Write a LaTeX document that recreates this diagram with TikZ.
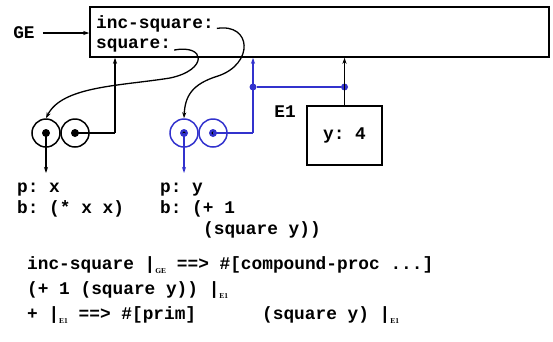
\documentclass[tikz,border=0pt]{standalone}
\usepackage{fontspec}
\newfontfamily\cour{Liberation Mono}
\newfontfamily\subf{Liberation Serif}
\usetikzlibrary{arrows.meta}
\definecolor{eblue}{RGB}{50,50,205}
\begin{document}
\begin{tikzpicture}[x=1pt,y=-1pt,
  txt/.style={font=\cour\bfseries\fontsize{17.8}{21}\selectfont, inner sep=0pt, anchor=base west},
  ctxt/.style={font=\cour\bfseries\fontsize{17.8}{21}\selectfont, inner sep=0pt},
  ln/.style={line width=1.3pt},
  arr/.style={ln, -{Stealth[length=6pt,width=4pt]}},
  cell/.style={circle, draw, line width=1.5pt, minimum size=28pt, inner sep=0pt},
  bdot/.style={circle, fill=black, minimum size=8pt, inner sep=0pt},
  bldot/.style={circle, fill=eblue, minimum size=8pt, inner sep=0pt, path picture={\fill[black] (path picture bounding box.center) circle (1.6pt);}},
  jdot/.style={circle, fill=eblue, minimum size=7pt, inner sep=0pt}
]
\useasboundingbox (0,0) rectangle (553,341);
\newcommand{\sbs}[1]{\raisebox{-4pt}{\subf\bfseries\fontsize{7.5}{7.5}\selectfont #1}}

% global frame
\node[draw, line width=1.5pt, minimum width=459pt, minimum height=50pt, inner sep=0pt] (ge) at (319.5,32) {};
\node[ctxt] (gel) at (24,33) {GE};
\draw[arr] (gel.east) ++(8pt,0) coordinate (gs) (gs) -- (ge.west |- gs);
\node[txt] (t1) at (96,28) {inc-square:};
\node[txt] (t2) at (96,48) {square:};

% black procedure
\node[cell] (c1) at (46,133) {};
\node[cell] (c2) at (75,133) {};
\node[bdot] (d1) at (c1.center) {};
\node[bdot] (d2) at (c2.center) {};
\coordinate (k1) at (115,133);
\draw[ln] (d2.center) -- (k1);
\draw[arr] (k1) -- (k1 |- ge.south);
\coordinate (pa) at (46,173);
\draw[arr] (d1.center) -- (pa);

% blue procedure
\node[cell, draw=eblue] (c3) at (184,133) {};
\node[cell, draw=eblue] (c4) at (213,133) {};
\node[bldot] (d3) at (c3.center) {};
\node[bldot] (d4) at (c4.center) {};
\coordinate (k2) at (253,133);
\draw[ln, eblue] (d4.center) -- (k2);
\draw[arr, eblue] (k2) -- (k2 |- ge.south);
\coordinate (pb) at (184,173);
\draw[arr, eblue] (d3.center) -- (pb);

% E1 frame
\node[draw, line width=1.5pt, minimum width=75pt, minimum height=59pt, inner sep=0pt] (e1) at (344.5,135.5) {};
\node[ctxt] at (e1.center) {y:~4};
\node[ctxt] (e1l) at (285,112) {E1};
\node[jdot] (j1) at (253,87) {};
\node[jdot] (j2) at (e1.north |- j1) {};
\draw[ln, eblue] (j1) -- (j2);
\draw[arr] (e1.north) -- (e1.north |- ge.south);

% pointers
\draw[arr] (t1.east) ++(3pt,-5pt) coordinate (s1)
  (s1) .. controls (252,23) and (254,64) .. (218,76)
       .. controls (192,84) and (185,96) .. (c3.north);
\draw[arr] (t2.east) ++(3pt,-5pt) coordinate (s2)
  (s2) .. controls (206,44) and (208,70) .. (170,78)
       .. controls (120,86) and (62,86) .. (c1.north);

% procedure texts
\node[txt] at (17,192) {p:~x};
\node[txt] at (17,213) {b:~(*~x~x)};
\node[txt] at (160,192) {p:~y};
\node[txt] at (160,213) {b:~(+~1};
\node[txt] at (203,234) {(square~y))};

% evaluation lines
\node[txt] at (27,269) {inc-square~|\sbs{GE}~==>~\#[compound-proc~...]};
\node[txt] at (27,294) {(+~1~(square~y))~|\sbs{E1}};
\node[txt] at (27,319) {+~|\sbs{E1}~==>~\#[prim]};
\node[txt] at (262,319) {(square~y)~|\sbs{E1}};
\end{tikzpicture}
\end{document}
